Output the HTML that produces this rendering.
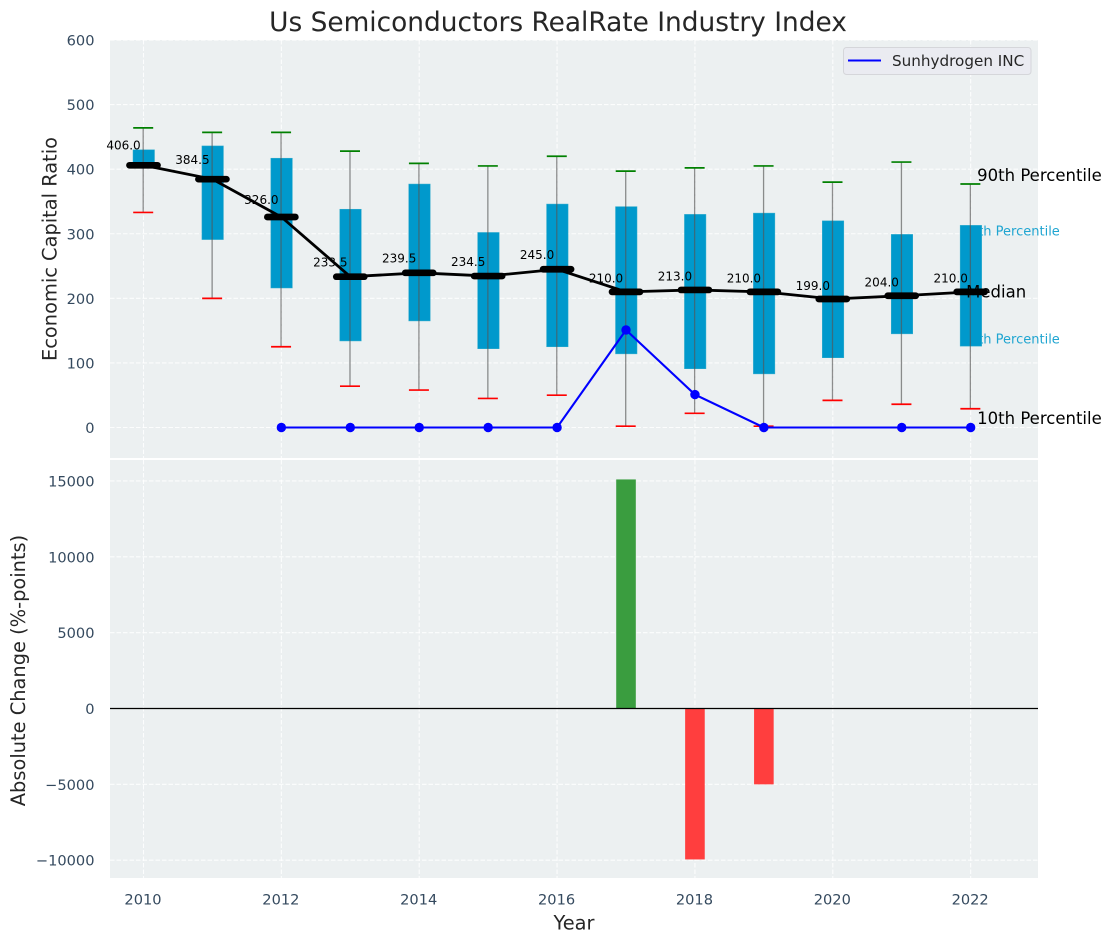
<!DOCTYPE html>
<html>
<head>
<meta charset="utf-8">
<title>Us Semiconductors RealRate Industry Index</title>
<style>
html,body{margin:0;padding:0;background:#fff;width:1112px;height:942px;overflow:hidden}
svg{display:block}
text{font-family:"DejaVu Sans","Liberation Sans",sans-serif}
</style>
</head>
<body>
<svg id="chart" xmlns="http://www.w3.org/2000/svg" width="1112" height="942" viewBox="0 0 1112 942"></svg>
<script>
const years = [2010, 2011, 2012, 2013, 2014, 2015, 2016, 2017, 2018, 2019, 2020, 2021, 2022];
const p90 = [464, 457, 457, 428, 409, 405, 420, 397, 402, 405, 380, 411, 377];
const p75 = [430, 436, 417, 338, 377, 302, 346, 342, 330, 332, 320, 299, 313];
const medians = [406, 384.5, 326, 233.5, 239.5, 234.5, 245, 210, 213, 210, 199, 204, 210];
const p25 = [406, 291, 216, 134, 165, 122, 125, 114, 91, 83, 108, 145, 126];
const p10 = [333, 200, 125, 64, 58, 45, 50, 2, 22, 2, 42, 36, 29];
const companyValues = [null, null, 0, 0, 0, 0, 0, 151, 51, 0, null, 0, 0];
const changeValues = [null, null, null, 0, 0, 0, 0, 15100, -9950, -5000, null, 0, 0];
const xTicks = [2010, 2012, 2014, 2016, 2018, 2020, 2022];
const topTicks = [0, 100, 200, 300, 400, 500, 600];
const bottomTicks = [-10000, -5000, 0, 5000, 10000, 15000];

const svg = document.getElementById('chart');
const NS = 'http://www.w3.org/2000/svg';
const X = v => 143.5 + (v - 2010) * 68.93;
const YT = v => 427.5 - v * 0.6458;
const YB = v => 708.5 - v * 0.01517;
const L = 110, R = 1038, T1 = 40, B1 = 458, T2 = 460, B2 = 878;

function add(tag, attrs, name, text) {
  const el = document.createElementNS(NS, tag);
  for (const k in attrs) el.setAttribute(k, attrs[k]);
  
  
  if (text !== undefined) el.textContent = text;
  svg.appendChild(el);
  return el;
}
const fmtTick = v => (v < 0 ? '\u2212' + Math.abs(v) : String(v));

add('rect', {x: L, y: T1, width: R - L, height: B1 - T1, fill: '#ecf0f1'}, 'top-panel-background');
add('rect', {x: L, y: T2, width: R - L, height: B2 - T2, fill: '#ecf0f1'}, 'bottom-panel-background');

const gridStyle = {stroke: '#ffffff', 'stroke-width': 1.1, 'stroke-dasharray': '4.5 2', fill: 'none', opacity: 0.85};
xTicks.forEach(t => {
  add('line', {x1: X(t), x2: X(t), y1: T1, y2: B1, ...gridStyle}, 'top-grid-vertical-' + t);
  add('line', {x1: X(t), x2: X(t), y1: T2, y2: B2, ...gridStyle}, 'bottom-grid-vertical-' + t);
  add('text', {x: X(t) - 0.5, y: 904.5, 'text-anchor': 'middle', 'font-size': 14.6, fill: '#34495e'}, 'x-tick-label-' + t, String(t));
});
topTicks.forEach(t => {
  add('line', {x1: L, x2: R, y1: YT(t), y2: YT(t), ...gridStyle}, 'top-grid-horizontal-' + t);
  add('text', {x: 94.5, y: YT(t) + 5.5, 'text-anchor': 'end', 'font-size': 14.6, fill: '#34495e'}, 'top-y-tick-label-' + t, fmtTick(t));
});
bottomTicks.forEach(t => {
  add('line', {x1: L, x2: R, y1: YB(t), y2: YB(t), ...gridStyle}, 'bottom-grid-horizontal-' + t);
  add('text', {x: 94.5, y: YB(t) + 5.5, 'text-anchor': 'end', 'font-size': 14.6, fill: '#34495e'}, 'bottom-y-tick-label-' + t, fmtTick(t));
});

const last = years.length - 1;
const lastX = X(years[last]);
add('text', {x: lastX - 9, y: 235.5, 'font-size': 13, fill: '#1fa5d1'}, 'p75-series-label', '75th Percentile');
add('text', {x: lastX - 9, y: 343.5, 'font-size': 13, fill: '#1fa5d1'}, 'p25-series-label', '25th Percentile');

years.forEach((yr, i) => {
  const x = X(yr);
  add('rect', {x: x - 10.5, y: YT(p75[i]), width: 21.5, height: Math.max(0, YT(p25[i]) - YT(p75[i])), fill: '#0099cc', stroke: '#33adcc', 'stroke-width': 0.5}, 'iqr-box-' + yr);
  add('line', {x1: x - 0.3, x2: x - 0.3, y1: YT(p90[i]), y2: YT(p10[i]), stroke: '#555555', 'stroke-opacity': 0.65, 'stroke-width': 1.3}, 'whisker-' + yr);
  add('line', {x1: x - 10.3, x2: x + 9.7, y1: YT(p90[i]), y2: YT(p90[i]), stroke: '#008000', 'stroke-width': 1.7}, 'p90-cap-' + yr);
  add('line', {x1: x - 10.3, x2: x + 9.7, y1: YT(p10[i]), y2: YT(p10[i]), stroke: '#ff0000', 'stroke-width': 1.7}, 'p10-cap-' + yr);
});

add('path', {d: years.map((yr, i) => (i ? 'L' : 'M') + X(yr) + ' ' + YT(medians[i])).join(' '), fill: 'none', stroke: '#000', 'stroke-width': 2.8}, 'median-line');

years.forEach((yr, i) => {
  const x = X(yr);
  add('line', {x1: x - 14, x2: x + 14, y1: YT(medians[i]), y2: YT(medians[i]), stroke: '#000', 'stroke-width': 6.7, 'stroke-linecap': 'round'}, 'median-marker-' + yr);
  add('text', {x: x - 20, y: YT(medians[i] * 1.05 + 11) + 4.5, 'text-anchor': 'middle', 'font-size': 12, fill: '#000'}, 'median-value-' + yr, medians[i].toFixed(1));
});

const pts = years.map((yr, i) => [yr, companyValues[i]]).filter(p => p[1] !== null);
add('path', {d: pts.map((p, i) => (i ? 'L' : 'M') + X(p[0]) + ' ' + YT(p[1])).join(' '), fill: 'none', stroke: '#0000ff', 'stroke-width': 2.1}, 'sunhydrogen-line');
pts.forEach(p => {
  add('circle', {cx: X(p[0]), cy: YT(p[1]), r: 4.7, fill: '#0000ff'}, 'sunhydrogen-point-' + p[0]);
});

add('text', {x: lastX + 6.5, y: 181, 'font-size': 16.5, fill: '#000'}, 'p90-series-label', '90th Percentile');
add('text', {x: lastX - 4.5, y: 297.5, 'font-size': 16.5, fill: '#000'}, 'median-series-label', 'Median');
add('text', {x: lastX + 6.5, y: 424, 'font-size': 16.5, fill: '#000'}, 'p10-series-label', '10th Percentile');

years.forEach((yr, i) => {
  const v = changeValues[i];
  if (v === null || v === 0) return;
  const y0 = YB(0), y1 = YB(v);
  add('rect', {x: X(yr) - 9.8, y: Math.min(y0, y1), width: 19.6, height: Math.abs(y1 - y0), fill: v > 0 ? '#3a9d3f' : '#ff3e3e'}, 'change-bar-' + yr);
});
add('line', {x1: L, x2: R, y1: YB(0), y2: YB(0), stroke: '#000', 'stroke-width': 1.2}, 'zero-line');

add('rect', {x: 843.5, y: 47.5, width: 187.5, height: 27, rx: 3, fill: '#eaebf1', stroke: '#d5d6da', 'stroke-width': 1}, 'legend-box');
add('line', {x1: 848, x2: 881, y1: 60.5, y2: 60.5, stroke: '#0000ff', 'stroke-width': 2}, 'legend-line-sunhydrogen');
add('text', {x: 892, y: 66, 'font-size': 15.2, fill: '#262626'}, 'legend-label-sunhydrogen', 'Sunhydrogen INC');

add('text', {x: 558, y: 31, 'text-anchor': 'middle', 'font-size': 26.4, fill: '#262626'}, 'chart-title', 'Us Semiconductors RealRate Industry Index');
add('text', {x: 574, y: 929.5, 'text-anchor': 'middle', 'font-size': 19.4, fill: '#262626'}, 'x-axis-title', 'Year');
add('text', {x: 0, y: 0, transform: 'translate(56.5,249) rotate(-90)', 'text-anchor': 'middle', 'font-size': 19.4, fill: '#262626'}, 'top-y-axis-title', 'Economic Capital Ratio');
add('text', {x: 0, y: 0, transform: 'translate(25,670.5) rotate(-90)', 'text-anchor': 'middle', 'font-size': 19.4, fill: '#262626'}, 'bottom-y-axis-title', 'Absolute Change (%-points)');
</script>
</body>
</html>
